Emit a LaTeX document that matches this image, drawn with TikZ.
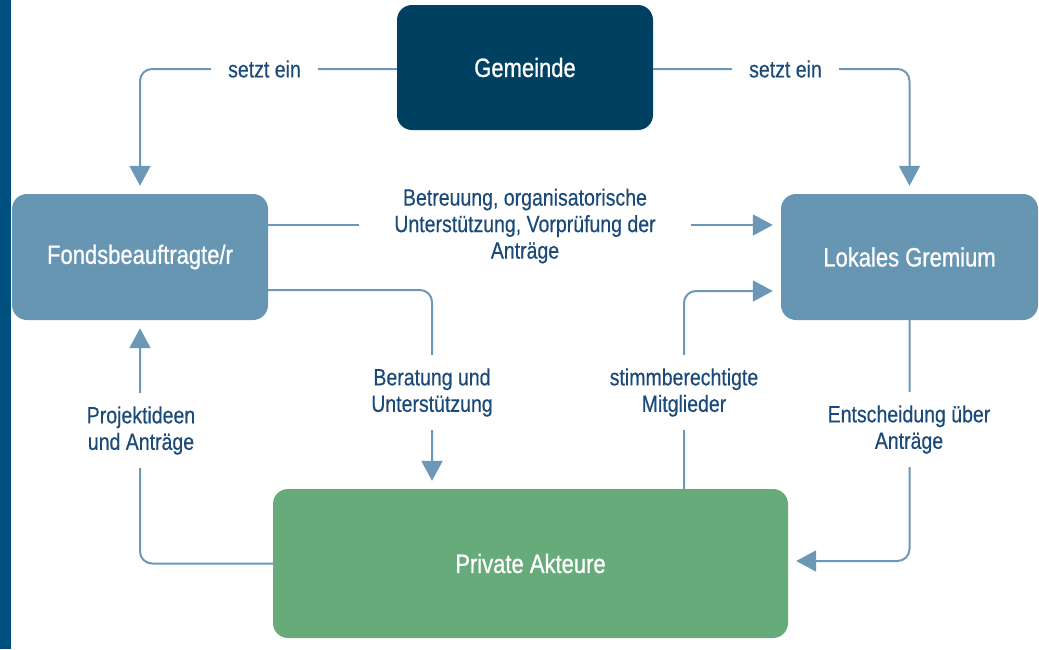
\documentclass[tikz,border=0pt]{standalone}
\usepackage{fontspec}
\setmainfont{Liberation Sans}[FakeStretch=0.83]
\newfontfamily\boxfont{Liberation Sans}[FakeStretch=0.83,FakeBold=0.8]
\newfontfamily\labfont{Liberation Sans}[FakeStretch=0.83,FakeBold=0.4]
\usetikzlibrary{arrows.meta}
\definecolor{navy}{RGB}{0,65,98}
\definecolor{midblue}{RGB}{103,150,179}
\definecolor{green}{RGB}{102,171,121}
\definecolor{barblue}{RGB}{0,80,127}
\definecolor{labcol}{RGB}{28,74,120}
\definecolor{linecol}{RGB}{106,152,182}
\begin{document}
\begin{tikzpicture}[x=1pt,y=-1pt,
  box/.style={rectangle, rounded corners=15pt, text=white, inner sep=0pt,
    font=\boxfont\fontsize{26.5}{30}\selectfont},
  conn/.style={draw=linecol, line width=2pt, rounded corners=12pt,
    -{Triangle[width=21pt,length=20pt]}, shorten >=8pt},
  lab/.style={fill=white, text=labcol, align=center, inner sep=0pt,
    font=\labfont\fontsize{23.5}{26.5}\selectfont}]
\useasboundingbox (0,0) rectangle (1039,649);
\fill[barblue] (0,0) rectangle (11,649);
% boxes
\node[box, fill=navy, minimum width=256pt, minimum height=125pt] (gem) at (525,67.5) {Gemeinde};
\node[box, fill=midblue, minimum width=256pt, minimum height=126pt] (fonds) at (140,257) {Fondsbeauftragte/r};
\node[box, fill=midblue, minimum width=257pt, minimum height=126pt] (lok) at (909.5,257) {Lokales Gremium};
\node[box, fill=green, minimum width=515pt, minimum height=149pt] (priv) at (530.5,563.5) {Private Akteure};
% connectors
\draw[conn] ([yshift=-1.5pt]gem.west) -| (fonds.north);
\draw[conn] ([yshift=-1.5pt]gem.east) -| (lok.north);
\draw[conn] ([yshift=32pt]fonds.east) -- ([yshift=32pt]lok.west);
\draw[conn] ([yshift=-33pt]fonds.east) -| ([xshift=-98.5pt]priv.north);
\draw[conn] ([xshift=153.5pt]priv.north) |- ([yshift=-34pt]lok.west);
\draw[conn] (lok.south) |- ([yshift=2.5pt]priv.east);
\draw[conn] (priv.west) -| (fonds.south);
% labels
\node[lab, minimum width=107pt, minimum height=10pt] (l1) at (264.5,69) {setzt ein};
\node[lab, minimum width=107pt, minimum height=10pt] (l2) at (785.5,69) {setzt ein};
\node[lab, minimum width=332pt, minimum height=10pt] (l3) at (525,226) {Betreuung, organisatorische\\Unterstützung, Vorprüfung der\\Anträge};
\node[lab, minimum width=10pt, minimum height=75pt] (l4) at (432,392.5) {Beratung und\\Unterstützung};
\node[lab, minimum width=10pt, minimum height=75pt] (l5) at (684,392.5) {stimmberechtigte\\Mitglieder};
\node[lab, minimum width=10pt, minimum height=75pt] (l6) at (909,429.5) {Entscheidung über\\Anträge};
\node[lab, minimum width=10pt, minimum height=75pt] (l7) at (141,430.5) {Projektideen\\und Anträge};
\end{tikzpicture}
\end{document}
